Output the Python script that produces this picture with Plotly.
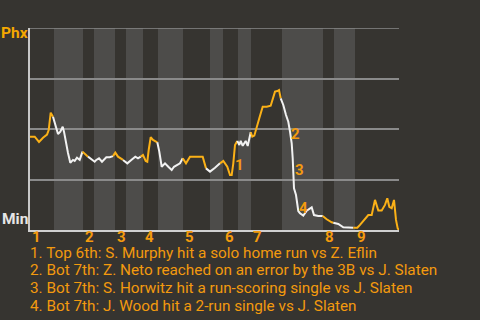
import plotly.graph_objects as go

# Win probability for Phx (%) along the game (x = play position)
play_x = [0, 4.7, 9, 13, 17, 18.7, 20.7, 23, 25.3, 28, 30.3, 32.7, 34, 36.3, 38, 40.3, 43, 44.7, 47, 49.7,
          52.5, 58, 64.7, 66.3, 69, 72, 76.3, 79.7, 83, 85.3, 88, 93, 97.3, 101.3, 105.3, 108, 110.7, 113,
          115.7, 117.3, 118.7, 120.7, 123, 127.3, 129.3, 131.7, 135, 138.3, 141.7, 144, 146.7, 150, 152.7,
          156, 160, 172.7, 176, 180, 185, 190, 193.3, 197.3, 200, 201.7, 203.3, 205, 207.3, 209.3, 210.7,
          212.7, 215.7, 217.7, 220.7, 222.3, 224.3, 226.7, 229.3, 232.7, 236.7, 240.7, 243.3, 245, 247.3,
          249, 250.7, 253.3, 256, 258.3, 260, 261.7, 262.7, 263.3, 264, 266, 268.3, 270, 273.3, 276.7,
          281.7, 284, 288.3, 292.7, 296.7, 301.7, 303.3, 308.3, 313.3, 323.3, 327.3, 330, 335, 338.3,
          341.7, 345, 348.3, 351.7, 355, 357.3, 359.3, 361.7, 364, 366, 367.7, 369]
win_prob = [46.2, 46.2, 43.6, 45.7, 47.2, 49.5, 58.1, 56.1, 52.0, 47.5, 48.7, 51.1, 48.7, 41.2, 38.1, 33.3,
            34.7, 34.2, 35.8, 34.7, 38.8, 36.3, 33.8, 34.7, 35.5, 33.8, 36.0, 36.0, 36.6, 38.3, 36.3, 34.7,
            33.0, 34.7, 36.3, 35.5, 36.3, 37.1, 34.2, 33.8, 39.6, 45.9, 44.6, 43.4, 38.8, 31.3, 33.0, 31.3,
            29.7, 31.3, 32.2, 33.0, 35.5, 33.0, 36.3, 36.3, 30.5, 28.9, 30.8, 33.0, 34.2, 31.3, 27.2, 27.2,
            33.0, 42.1, 44.1, 42.1, 44.1, 41.7, 44.1, 41.6, 48.4, 46.2, 46.7, 50.3, 55.3, 61.0, 61.0, 61.5,
            65.2, 68.5, 68.8, 69.3, 65.2, 61.9, 56.9, 53.6, 48.7, 42.9, 35.5, 28.9, 20.6, 17.3, 9.4, 8.3,
            7.1, 9.6, 11.2, 7.4, 6.9, 6.9, 5.3, 3.8, 3.6, 3.0, 1.3, 1.1, 1.1, 2.5, 5.8, 7.4, 7.4, 14.9,
            9.6, 9.6, 12.4, 15.7, 11.5, 10.8, 14.9, 5.0, 0.8, 0]

# Half-inning start positions (top, bottom alternating); last value = end of game
half_starts = [0, 24, 53, 64, 85, 96, 113, 128, 153, 180, 193, 208, 221, 252, 293, 304, 325, 369]
inning_labels = ["1", "2", "3", "4", "5", "6", "7", "8", "9"]

# Key events
event_labels = ["1", "2", "3", "4"]
event_x = [209, 265.3, 269, 273]
event_y = [32.4, 47.7, 29.6, 11.1]
event_texts = [
    "1. Top 6th: S. Murphy hit a solo home run vs Z. Eflin",
    "2. Bot 7th: Z. Neto reached on an error by the 3B vs J. Slaten",
    "3. Bot 7th: S. Horwitz hit a run-scoring single vs J. Slaten",
    "4. Bot 7th: J. Wood hit a 2-run single vs J. Slaten",
]

BG = "#363430"
BAND = "#4d4c4a"
ORANGE_LINE = "#fbb117"
ORANGE_TEXT = "#f39a0e"
WHITE_LINE = "#f2f2f2"
GRID = "#8a8a8a"
FONT = "Roboto"

fig = go.Figure()

shapes = []
n_half = len(half_starts) - 1
for h in range(n_half):
    if h % 2 == 1:
        shapes.append(dict(type="rect", xref="x", yref="paper", x0=half_starts[h], x1=half_starts[h + 1],
                           y0=0, y1=1, fillcolor=BAND, line=dict(width=0), layer="below"))
# top gridline (range edge)
shapes.append(dict(type="line", xref="paper", yref="y", x0=0, x1=1, y0=100, y1=100,
                   line=dict(color=GRID, width=1.5), layer="below"))

for h in range(n_half):
    lo, hi = half_starts[h], half_starts[h + 1]
    idx = [i for i, xv in enumerate(play_x) if (lo <= xv < hi) or (h == n_half - 1 and xv == hi)]
    if not idx:
        continue
    if idx[0] > 0:
        idx = [idx[0] - 1] + idx
    fig.add_trace(go.Scatter(
        x=[play_x[i] for i in idx], y=[win_prob[i] for i in idx], mode="lines",
        line=dict(color=ORANGE_LINE if h % 2 == 0 else WHITE_LINE, width=2),
        hoverinfo="skip", showlegend=False))

annotations = []
for k, lab in enumerate(inning_labels):
    annotations.append(dict(x=half_starts[2 * k], y=-0.035, xref="x", yref="paper", text=f"<b>{lab}</b>",
                            showarrow=False, xanchor="left", yanchor="middle",
                            font=dict(family=FONT, size=15, color=ORANGE_TEXT)))
for lab, ex, ey in zip(event_labels, event_x, event_y):
    annotations.append(dict(x=ex, y=ey, xref="x", yref="y", text=f"<b>{lab}</b>", showarrow=False,
                            xanchor="center", yanchor="middle",
                            font=dict(family=FONT, size=15, color=ORANGE_TEXT)))
annotations.append(dict(x=-0.041, y=0.975, xref="paper", yref="paper", text="<b>Phx</b>", showarrow=False,
                        xanchor="center", yanchor="middle", font=dict(family=FONT, size=15.5, color="#f5a800")))
annotations.append(dict(x=-0.041, y=0.054, xref="paper", yref="paper", text="<b>Min</b>", showarrow=False,
                        xanchor="center", yanchor="middle", font=dict(family=FONT, size=15.5, color="#e6e6e6")))
for k, t in enumerate(event_texts):
    py = 252.5 + 17.7 * k
    annotations.append(dict(x=-0.005, y=(230 - py) / 202, xref="paper", yref="paper", text=t,
                            showarrow=False, xanchor="left", yanchor="middle",
                            font=dict(family=FONT, size=15.3, color=ORANGE_TEXT)))

fig.update_layout(
    width=480, height=320,
    margin=dict(l=30, r=81, t=28, b=90),
    paper_bgcolor=BG, plot_bgcolor=BG,
    shapes=shapes, annotations=annotations,
    xaxis=dict(range=[0, 369], showgrid=False, zeroline=False, showticklabels=False, ticks="",
               showline=True, linecolor="#d0d0d0", linewidth=2, mirror=False, fixedrange=True),
    yaxis=dict(range=[0, 100], tickvals=[25, 50, 75, 100], showgrid=True, gridcolor=GRID, gridwidth=1.5,
               zeroline=False, showticklabels=False, ticks="", showline=True, linecolor="#c8c8c8",
               linewidth=1.5, fixedrange=True),
    showlegend=False,
)

fig.write_html("out.html")
